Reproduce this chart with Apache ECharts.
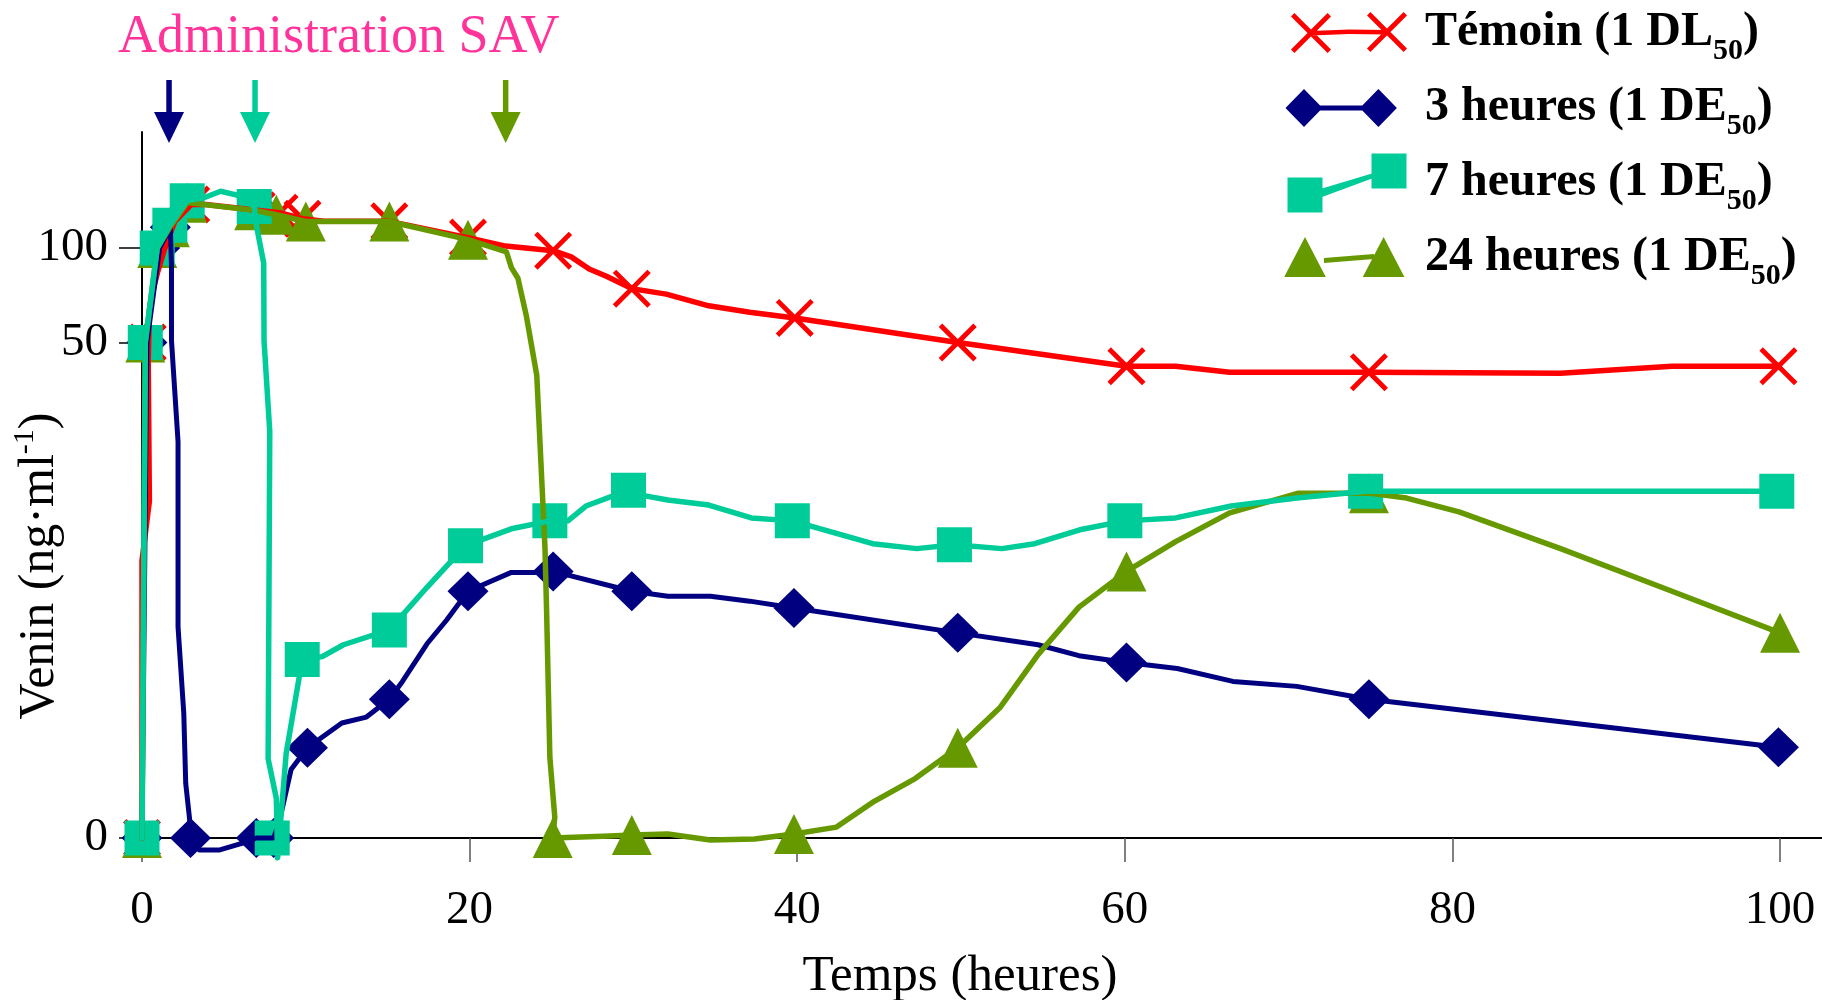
<!DOCTYPE html>
<html>
<head>
<meta charset="utf-8">
<script src="https://cdn.jsdelivr.net/npm/echarts@6/dist/echarts.min.js"></script>
<style>html,body{margin:0;padding:0;background:#fff}#c{width:1822px;height:1000px}</style>
</head>
<body>
<div id="c"></div>
<script>
// ---------- data (time in hours, venom in ng/ml) ----------
const seriesNames = ['Témoin (1 DL50)', '3 heures (1 DE50)', '7 heures (1 DE50)', '24 heures (1 DE50)'];
const legendParts = [['Témoin (1 DL', '50', ')'], ['3 heures (1 DE', '50', ')'], ['7 heures (1 DE', '50', ')'], ['24 heures (1 DE', '50', ')']];
const xTicks = [0, 20, 40, 60, 80, 100];
const yTicks = [0, 50, 100];
const arrowTimes = [1.65, 6.9, 22.2];

const temoinLine = [[0,0],[0,28],[0.45,34],[0.38,48],[0.45,67],[0.68,78],[0.98,88],[1.4,100],[2,114],[3.0,123],[3.9,123],[5.8,121.2],[7.0,120],[8.4,118.7],[9.8,115.5],[11.1,114.1],[15.1,114.1],[19.9,105.5],[22.2,101],[25.1,98.6],[26.2,95.3],[27.3,88.9],[28.35,85],[29.9,78.5],[32.0,75.6],[34.6,69.4],[37.1,66],[39.85,63],[49.8,50],[60.1,47.6],[63.1,47.6],[66.4,47.0],[74.9,47.0],[86.6,46.9],[93.4,47.6],[99.9,47.6]];
const temoinMarkers = [[0,0],[0.35,50],[3.0,123],[7.0,120],[8.4,118.7],[9.8,115.5],[15.1,114.1],[19.9,105.5],[25.1,98.6],[29.9,78.5],[39.85,63],[49.8,50],[60.1,47.6],[74.9,47.0],[99.9,47.6]];

const h3Line = [[0,0],[0.3,50],[1.08,100],[1.73,111],[1.8,90],[1.8,51],[2.2,40],[2.2,21.3],[2.55,12.6],[2.67,5.5],[2.9,2],[2.96,0],[3.5,-1.2],[4.75,-1.2],[6.2,-0.5],[6.98,0],[8.04,0],[8.4,1.8],[9.1,6.9],[10.1,9.1],[12.2,11.6],[13.7,12.2],[15.1,14.0],[15.9,15.8],[17.4,19.6],[18.6,22.0],[19.9,24.9],[22.55,26.8],[23.9,26.8],[25.1,26.9],[29.9,24.9],[32.1,24.4],[34.7,24.4],[37.1,23.9],[39.8,23.2],[49.8,20.7],[54.7,19.5],[57.2,18.4],[60.1,17.7],[63.2,17.1],[66.6,15.8],[70.5,15.3],[74.9,14.0],[99.9,9.15]];
const h3Markers = [[0,0],[0.3,50],[1.08,100],[1.73,111],[2.96,0],[6.98,0],[8.04,0],[10.1,9.1],[15.1,14.0],[19.9,24.9],[25.1,26.9],[29.9,24.9],[39.8,23.2],[49.8,20.7],[60.1,17.7],[74.9,14.0],[99.9,9.15]];

const h7Line = [[0,0],[0.2,50],[0.93,100],[1.7,112],[2.76,125],[3.9,127],[4.8,130],[5.8,128],[6.85,122],[6.98,112],[7.43,92],[7.45,51],[7.8,41],[7.7,8],[8.2,4],[8.28,-2],[8.8,8.5],[9.78,18],[11.0,18.3],[12.3,19.5],[15.1,21],[17.4,25.3],[19.75,29.5],[22.55,31.2],[24.9,32.0],[26,32],[27.1,33.5],[29.7,35.1],[30.8,34.5],[32.1,34.1],[34.6,33.6],[37.2,32.3],[39.7,32.0],[44.6,29.7],[47.3,29.2],[49.6,29.6],[52.5,29.2],[54.5,29.7],[57.25,31.1],[60,32.0],[63.1,32.3],[66.5,33.5],[70.5,34.3],[74.7,35.0],[99.8,35.0]];
const h7Markers = [[0,0],[0.2,50],[0.93,100],[1.7,112],[2.76,125],[6.85,122],[7.95,0],[9.78,18],[15.1,21],[19.75,29.5],[24.9,32.0],[29.7,35.1],[39.7,32.0],[49.6,29.6],[60,32.0],[74.7,35.0],[99.8,35.0]];

const h24Line = [[0,0],[0.2,50],[0.93,100],[1.7,111],[2.76,124],[6.85,120],[8.2,117.6],[10,114],[15.1,114],[19.9,104.4],[22.25,97.9],[22.55,89.6],[22.95,84],[23.47,63.8],[24.1,46.7],[24.6,29.3],[24.7,22.9],[24.9,8.1],[25.2,2.1],[25.07,0],[28.55,0.2],[29.9,0.3],[32.1,0.4],[34.7,-0.2],[37.4,-0.1],[39.8,0.4],[42.4,1.1],[44.7,3.7],[47.2,6.0],[49.8,9.1],[52.4,13.2],[54.7,18.5],[57.2,23.3],[60.1,26.9],[63.1,29.9],[66.4,32.8],[70.6,34.8],[74.9,34.8],[77.2,34.3],[80.4,32.9],[86.6,29.2],[93.4,24.9],[100,20.7]];
const h24Markers = [[0,0],[0.2,50],[0.93,100],[1.7,111],[2.76,124],[6.85,120],[8.2,117.6],[10,114],[15.1,114],[19.9,104.4],[25.07,0],[29.9,0.3],[39.8,0.4],[49.8,9.1],[60.1,26.9],[74.9,34.8],[100,20.7]];

// ---------- broken y scale: 0-50 linear, above 50 compressed ----------
const K = 0.1907;
const f = v => v <= 50 ? v : 50 + (v - 50) * K;
const finv = t => t <= 50 ? t : 50 + (t - 50) / K;
const toXY = pts => pts.map(p => [p[0], f(p[1])]);

const RED = '#FF0000', NAVY = '#000080', TEAL = '#00CC99', GREEN = '#669900', PINK = '#FF3399';
const SERIF = '"Liberation Serif", "Times New Roman", serif';
const X_SYMBOL = 'path://M0,9L9,0L100,91L91,100ZM91,0L100,9L9,100L0,91Z';

// ---------- legend icons (frame 136 x 60) ----------
const pin = 'M0,0M136,60';
function xShape(cx, cy, s, o) {
  return `M${cx-s},${cy-s+o}L${cx-s+o},${cy-s}L${cx+s},${cy+s-o}L${cx+s-o},${cy+s}Z` +
         `M${cx+s-o},${cy-s}L${cx+s},${cy-s+o}L${cx-s+o},${cy+s}L${cx-s},${cy+s-o}Z`;
}
function rectP(x, y, w, h) { return `M${x},${y}L${x+w},${y}L${x+w},${y+h}L${x},${y+h}Z`; }
function diamondP(cx, cy, w, h) { return `M${cx},${cy-h/2}L${cx+w/2},${cy}L${cx},${cy+h/2}L${cx-w/2},${cy}Z`; }
function triP(cx, cy, w, h) { return `M${cx},${cy-h/2}L${cx+w/2},${cy+h/2}L${cx-w/2},${cy+h/2}Z`; }
const iconRed = 'path://' + pin + xShape(27, 30, 20, 3.4) + xShape(103, 29, 20, 3.4) + 'M27,28L65,26.5L103,27L103,31.5L65,31L27,32.5Z';
const iconNavy = 'path://' + pin + diamondP(20, 30, 37, 38) + diamondP(94.4, 30, 37, 38) + rectP(20, 27.5, 74.4, 5);
const iconTeal = 'path://' + pin + rectP(3.5, 24.5, 35, 35) + rectP(87.5, 0.5, 35, 35) + 'M38,35.5L88,20.5L88,25.5L38,44Z';
const iconGreen = 'path://' + pin + triP(21, 29, 41.6, 40) + triP(99.6, 29, 41.6, 40) + 'M40,30L90,26L90,31L40,35Z';

function lineS(name, pts, color, width) {
  return { type: 'line', name, data: toXY(pts), symbol: 'none', showSymbol: false, clip: false,
    lineStyle: { color, width, join: 'round', cap: 'round' }, itemStyle: { color }, silent: true };
}
function markS(name, pts, color, symbol, size) {
  return { type: 'scatter', name, data: toXY(pts), symbol, symbolSize: size, clip: false,
    itemStyle: { color, opacity: 1 }, silent: true };
}

const chart = echarts.init(document.getElementById('c'), null, { renderer: 'canvas' });
chart.setOption({
  animation: false,
  backgroundColor: '#fff',
  title: {
    text: 'Administration SAV', left: 118, top: 11, padding: 0,
    textStyle: { color: PINK, fontFamily: SERIF, fontWeight: 'normal', fontSize: 54, lineHeight: 54 }
  },
  legend: {
    orient: 'vertical', left: 1284, top: 0, padding: 0,
    itemWidth: 136, itemHeight: 60, itemGap: 9, selectedMode: false,
    itemStyle: { borderWidth: 0 },
    data: [
      { name: seriesNames[0], icon: iconRed, itemStyle: { color: RED, borderWidth: 0 } },
      { name: seriesNames[1], icon: iconNavy, itemStyle: { color: NAVY, borderWidth: 0 } },
      { name: seriesNames[2], icon: iconTeal, itemStyle: { color: TEAL, borderWidth: 0 } },
      { name: seriesNames[3], icon: iconGreen, itemStyle: { color: GREEN, borderWidth: 0 } }
    ],
    formatter: name => {
      const p = legendParts[seriesNames.indexOf(name)];
      return `{m|${p[0]}}{s|${p[1]}}{m|${p[2]}}`;
    },
    textStyle: {
      color: '#000', fontFamily: SERIF, fontWeight: 'bold', fontSize: 48,
      rich: {
        m: { color: '#000', fontFamily: SERIF, fontWeight: 'bold', fontSize: 48, lineHeight: 56 },
        s: { color: '#000', fontFamily: SERIF, fontWeight: 'bold', fontSize: 30, lineHeight: 24, padding: [36, 0, 0, 0] }
      }
    }
  },
  grid: { left: 142, right: 0, top: 132, bottom: 162, containLabel: false, outerBoundsMode: 'none' },
  xAxis: {
    type: 'value', min: 0, max: 102.56,
    name: 'Temps (heures)', nameLocation: 'middle', nameGap: 113, nameMoveOverlap: false,
    nameTextStyle: { color: '#000', fontFamily: SERIF, fontSize: 51, lineHeight: 51, padding: [0, 44, 0, 0] },
    axisLine: { show: true, onZero: false, lineStyle: { color: '#000', width: 1.8 } },
    axisTick: { show: true, length: 24, customValues: xTicks, lineStyle: { color: '#555', width: 1.5 } },
    axisLabel: { customValues: xTicks, margin: 49, color: '#000', fontFamily: SERIF, fontSize: 47 },
    splitLine: { show: false }
  },
  yAxis: {
    type: 'value', min: 0, max: 71.24,
    name: '{m|Venin (ng·ml}{s|-1}{m|)}', nameLocation: 'middle', nameGap: 74, nameRotate: 90, nameMoveOverlap: false,
    nameTextStyle: {
      color: '#000', fontFamily: SERIF, fontSize: 50, padding: [0, 162, 0, 0],
      rich: {
        m: { color: '#000', fontFamily: SERIF, fontSize: 50, lineHeight: 56 },
        s: { color: '#000', fontFamily: SERIF, fontSize: 30, lineHeight: 24, padding: [0, 0, 30, 0] }
      }
    },
    axisLine: { show: true, onZero: false, lineStyle: { color: '#000', width: 2 } },
    axisTick: { show: true, length: 23, customValues: yTicks.map(f), lineStyle: { color: '#000', width: 1.5 } },
    axisLabel: { customValues: yTicks.map(f), margin: 34, color: '#000', fontFamily: SERIF, fontSize: 47,
      formatter: v => String(Math.round(finv(v))) },
    splitLine: { show: false }
  },
  series: [
    lineS(seriesNames[0], temoinLine, RED, 5.5),
    markS(seriesNames[0], temoinMarkers, RED, X_SYMBOL, 38),
    lineS(seriesNames[1], h3Line, NAVY, 5),
    markS(seriesNames[1], h3Markers, NAVY, 'diamond', [41, 40]),
    lineS(seriesNames[3], h24Line, GREEN, 5.5),
    markS(seriesNames[3], h24Markers, GREEN, 'triangle', [40, 40]),
    lineS(seriesNames[2], h7Line, TEAL, 5.5),
    markS(seriesNames[2], h7Markers, TEAL, 'rect', [35, 35]),
    {
      type: 'custom', coordinateSystem: 'cartesian2d', clip: false, silent: true, z: 10,
      data: arrowTimes.map(t => [t, 0]), encode: { x: 0, y: 1 },
      renderItem: (params, api) => {
        const x = api.coord([api.value(0), 0])[0];
        const c = [NAVY, TEAL, GREEN][params.dataIndex];
        return { type: 'group', children: [
          { type: 'rect', shape: { x: x - 2.75, y: 80, width: 5.5, height: 36 }, style: { fill: c } },
          { type: 'polygon', shape: { points: [[x - 15, 112], [x + 15, 112], [x, 143]] }, style: { fill: c } }
        ] };
      }
    }
  ]
});
</script>
</body>
</html>
